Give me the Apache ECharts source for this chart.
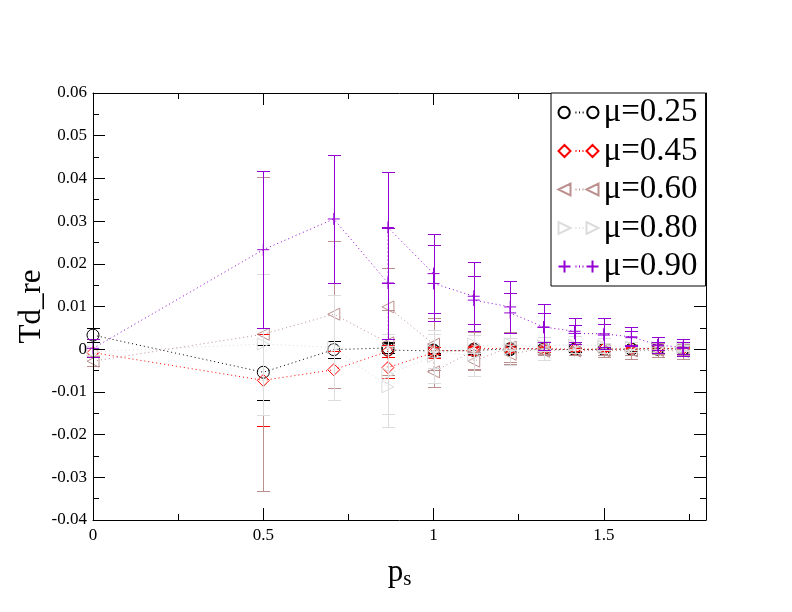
<!DOCTYPE html>
<html>
<head>
<meta charset="utf-8">
<script src="https://cdn.jsdelivr.net/npm/echarts@6/dist/echarts.min.js"></script>
<style>
  html, body { margin: 0; padding: 0; background: #fff; }
  #chart { width: 792px; height: 612px; }
</style>
</head>
<body>
<div id="chart"></div>
<script>
// p_s values; from 0.866 on every momentum shows up twice
const ps = [0, 0.5, 0.707, 0.866, 0.866, 1.0, 1.0, 1.118, 1.118, 1.225, 1.225,
  1.323, 1.323, 1.414, 1.414, 1.5, 1.5, 1.581, 1.581, 1.658, 1.658, 1.732, 1.732];

const mu025 = [0.0033, -0.0054, -0.0001, 0.0003, -0.0002, -0.0004, -0.0002, -0.0003, 0.0000, 0.0001, -0.0001,
  0.0000, 0.0001, -0.0001, 0.0000, 0.0000, -0.0001, 0.0000, 0.0000, 0.0001, 0.0000, 0.0000, -0.0001];
const mu025Err = [0.0017, 0.0065, 0.0020, 0.0013, 0.0016, 0.0010, 0.0008, 0.0008, 0.0006, 0.0007, 0.0005,
  0.0005, 0.0004, 0.0005, 0.0004, 0.0004, 0.0003, 0.0004, 0.0003, 0.0003, 0.0003, 0.0003, 0.0003];

const mu045 = [-0.0008, -0.0073, -0.0048, -0.0005, -0.0043, -0.0008, -0.0003, -0.0004, 0.0001, 0.0002, 0.0000,
  0.0001, -0.0001, 0.0000, -0.0001, 0.0000, 0.0001, 0.0001, 0.0000, 0.0002, 0.0001, 0.0001, 0.0000];
const mu045Err = [0.0010, 0.0108, 0.0043, 0.0014, 0.0024, 0.0012, 0.0009, 0.0009, 0.0007, 0.0008, 0.0006,
  0.0006, 0.0005, 0.0005, 0.0004, 0.0005, 0.0004, 0.0004, 0.0003, 0.0004, 0.0003, 0.0003, 0.0003];

const mu060 = [-0.0028, 0.0035, 0.0082, 0.0015, 0.0099, 0.0012, -0.0053, -0.0003, -0.0028, 0.0005, -0.0012,
  0.0003, -0.0005, 0.0001, -0.0004, -0.0002, -0.0004, -0.0004, -0.0003, -0.0002, -0.0003, -0.0005, -0.0003];
const mu060Err = [0.0012, 0.0368, 0.0172, 0.0076, 0.0092, 0.0060, 0.0035, 0.0044, 0.0021, 0.0036, 0.0022,
  0.0015, 0.0008, 0.0015, 0.0010, 0.0016, 0.0010, 0.0020, 0.0010, 0.0016, 0.0009, 0.0017, 0.0010];

const mu080 = [-0.0006, 0.0012, 0.0004, -0.0088, -0.0058, -0.0017, -0.0005, -0.0015, 0.0012, 0.0000, 0.0012,
  0.0002, 0.0008, 0.0010, 0.0008, 0.0008, 0.0006, 0.0005, 0.0004, 0.0004, 0.0003, 0.0005, 0.0003];
const mu080Err = [0.0008, 0.0165, 0.0122, 0.0095, 0.0093, 0.0063, 0.0040, 0.0048, 0.0021, 0.0037, 0.0015,
  0.0027, 0.0012, 0.0020, 0.0008, 0.0018, 0.0009, 0.0012, 0.0007, 0.0012, 0.0006, 0.0010, 0.0006];

const mu090 = [0.0002, 0.0233, 0.0305, 0.0155, 0.0285, 0.0177, 0.0154, 0.0124, 0.0115, 0.0099, 0.0085,
  0.0052, 0.0051, 0.0042, 0.0037, 0.0036, 0.0033, 0.0029, 0.0027, 0.0010, 0.0008, 0.0004, 0.0002];
const mu090Err = [0.0021, 0.0184, 0.0150, 0.0130, 0.0130, 0.0092, 0.0089, 0.0081, 0.0057, 0.0060, 0.0046,
  0.0055, 0.0034, 0.0030, 0.0019, 0.0036, 0.0027, 0.0022, 0.0016, 0.0019, 0.0009, 0.0019, 0.0014];

const seriesNames = ['μ=0.25', 'μ=0.45', 'μ=0.60', 'μ=0.80', 'μ=0.90'];
const xTicks = [0, 0.5, 1, 1.5];

// marker outlines, centred on (0,0) in a 2x2 box
const marks = {
  circle: 'circle',
  diamond: 'path://M0,-1L1,0L0,1L-1,0Z',
  left: 'path://M-1,0L1,-1L1,1Z',
  right: 'path://M1,0L-1,-1L-1,1Z',
  plus: 'path://M-1,0L1,0M0,-1L0,1'
};
// legend samples: marker, dots, marker in a 40x12 box
const dots = 'M17,6L18,6M20.5,6L21.5,6M24,6L25,6';
const legendIcons = {
  circle: 'path://M11.5,6A5.5,5.5,0,1,1,0.5,6A5.5,5.5,0,1,1,11.5,6Z' + dots +
    'M39.5,6A5.5,5.5,0,1,1,28.5,6A5.5,5.5,0,1,1,39.5,6Z',
  diamond: 'path://M6,0L12,6L6,12L0,6Z' + dots + 'M34,0L40,6L34,12L28,6Z',
  left: 'path://M0,6L12,0L12,12Z' + dots + 'M28,6L40,0L40,12Z',
  right: 'path://M12,6L0,0L0,12Z' + dots + 'M40,6L28,0L28,12Z',
  plus: 'path://M0,6L12,6M6,0L6,12' + dots + 'M28,6L40,6M34,0L34,12'
};

const sets = [
  { name: seriesNames[0], y: mu025, err: mu025Err, color: '#000000', mark: 'circle' },
  { name: seriesNames[1], y: mu045, err: mu045Err, color: '#ff0000', mark: 'diamond' },
  { name: seriesNames[2], y: mu060, err: mu060Err, color: 'rgb(188,143,143)', mark: 'left' },
  { name: seriesNames[3], y: mu080, err: mu080Err, color: 'rgb(220,220,220)', mark: 'right' },
  { name: seriesNames[4], y: mu090, err: mu090Err, color: 'rgb(148,0,211)', mark: 'plus' }
];

const serif = 'Liberation Serif, DejaVu Serif, serif';
const chart = echarts.init(document.getElementById('chart'));

// vertical bar with a cap at each end, drawn as 1px rects
const errorBar = color => (params, api) => {
  const x = api.value(0);
  const lo = api.coord([x, api.value(1)]);
  const hi = api.coord([x, api.value(2)]);
  const cx = Math.round(lo[0]);
  const yb = Math.round(lo[1]);
  const yt = Math.round(hi[1]);
  const half = 6;
  const st = { fill: color };
  return {
    type: 'group',
    children: [
      { type: 'rect', shape: { x: cx, y: yt, width: 1, height: yb - yt + 1 }, style: st },
      { type: 'rect', shape: { x: cx - half, y: yt, width: 2 * half + 1, height: 1 }, style: st },
      { type: 'rect', shape: { x: cx - half, y: yb, width: 2 * half + 1, height: 1 }, style: st }
    ]
  };
};

// later sets are painted over earlier ones
const series = [];
sets.forEach((s, k) => {
  series.push({
    type: 'custom',
    name: s.name + ' err',
    z: 2 + 2 * k,
    renderItem: errorBar(s.color),
    data: ps.map((x, i) => [x, s.y[i] - s.err[i], s.y[i] + s.err[i]]),
    encode: { x: 0, y: [1, 2] },
    silent: true
  });
  series.push({
    type: 'line',
    name: s.name,
    z: 3 + 2 * k,
    data: ps.map((x, i) => [x, s.y[i]]),
    symbol: marks[s.mark],
    symbolSize: 12,
    showAllSymbol: true,
    lineStyle: { color: s.color, width: 1, type: [1, 3] },
    itemStyle: { color: 'none', borderColor: s.color, borderWidth: 1 },
    emphasis: { disabled: true }
  });
});

const fmtY = v => {
  const r = Math.round(v * 100) / 100;
  return r === 0 ? '0' : String(r);
};

const frameAxis = {
  axisLine: { show: true, onZero: false, lineStyle: { color: '#000', width: 1 } },
  axisTick: { show: true, inside: true, length: 12, lineStyle: { color: '#000' } },
  minorTick: { show: true, splitNumber: 2, length: 6, lineStyle: { color: '#000' } },
  splitLine: { show: false },
  z: 20
};

const option = {
  animation: false,
  backgroundColor: '#ffffff',
  grid: { left: 93, right: 86, top: 93, bottom: 92, containLabel: false },
  legend: {
    data: sets.map(s => ({ name: s.name, icon: legendIcons[s.mark] })),
    orient: 'vertical',
    z: 30,
    left: 551,
    top: 93,
    padding: [3, 8, 3, 5],
    itemGap: 5.5,
    itemWidth: 40,
    itemHeight: 12,
    backgroundColor: '#ffffff',
    borderColor: '#000000',
    borderWidth: 1,
    borderRadius: 0,
    selectedMode: false,
    textStyle: { fontFamily: serif, fontSize: 33, color: '#000', lineHeight: 33 }
  },
  xAxis: [Object.assign({
    type: 'value',
    min: 0,
    max: 1.8,
    interval: 0.5,
    name: '{a|p}{b|s}',
    nameLocation: 'middle',
    nameGap: 35,
    nameTextStyle: {
      rich: {
        a: { fontFamily: serif, fontSize: 31, color: '#000' },
        b: { fontFamily: serif, fontSize: 21, color: '#000', padding: [14, 0, 0, 0] }
      }
    },
    axisLabel: {
      fontFamily: serif, fontSize: 17, color: '#000', margin: 7,
      formatter: v => (xTicks.indexOf(v) >= 0 ? String(v) : '')
    }
  }, frameAxis), Object.assign({
    type: 'value',
    position: 'top',
    min: 0,
    max: 1.8,
    interval: 0.5,
    axisLabel: { show: false }
  }, frameAxis)],
  yAxis: [Object.assign({
    type: 'value',
    min: -0.04,
    max: 0.06,
    interval: 0.01,
    name: 'Td_re',
    nameLocation: 'middle',
    nameGap: 46,
    nameMoveOverlap: false,
    nameTextStyle: { fontFamily: serif, fontSize: 31, color: '#000' },
    axisLabel: { fontFamily: serif, fontSize: 17, color: '#000', margin: 6, formatter: fmtY }
  }, frameAxis), Object.assign({
    type: 'value',
    position: 'right',
    min: -0.04,
    max: 0.06,
    interval: 0.01,
    axisLabel: { show: false }
  }, frameAxis)],
  series: series
};

chart.setOption(option);
</script>
</body>
</html>
